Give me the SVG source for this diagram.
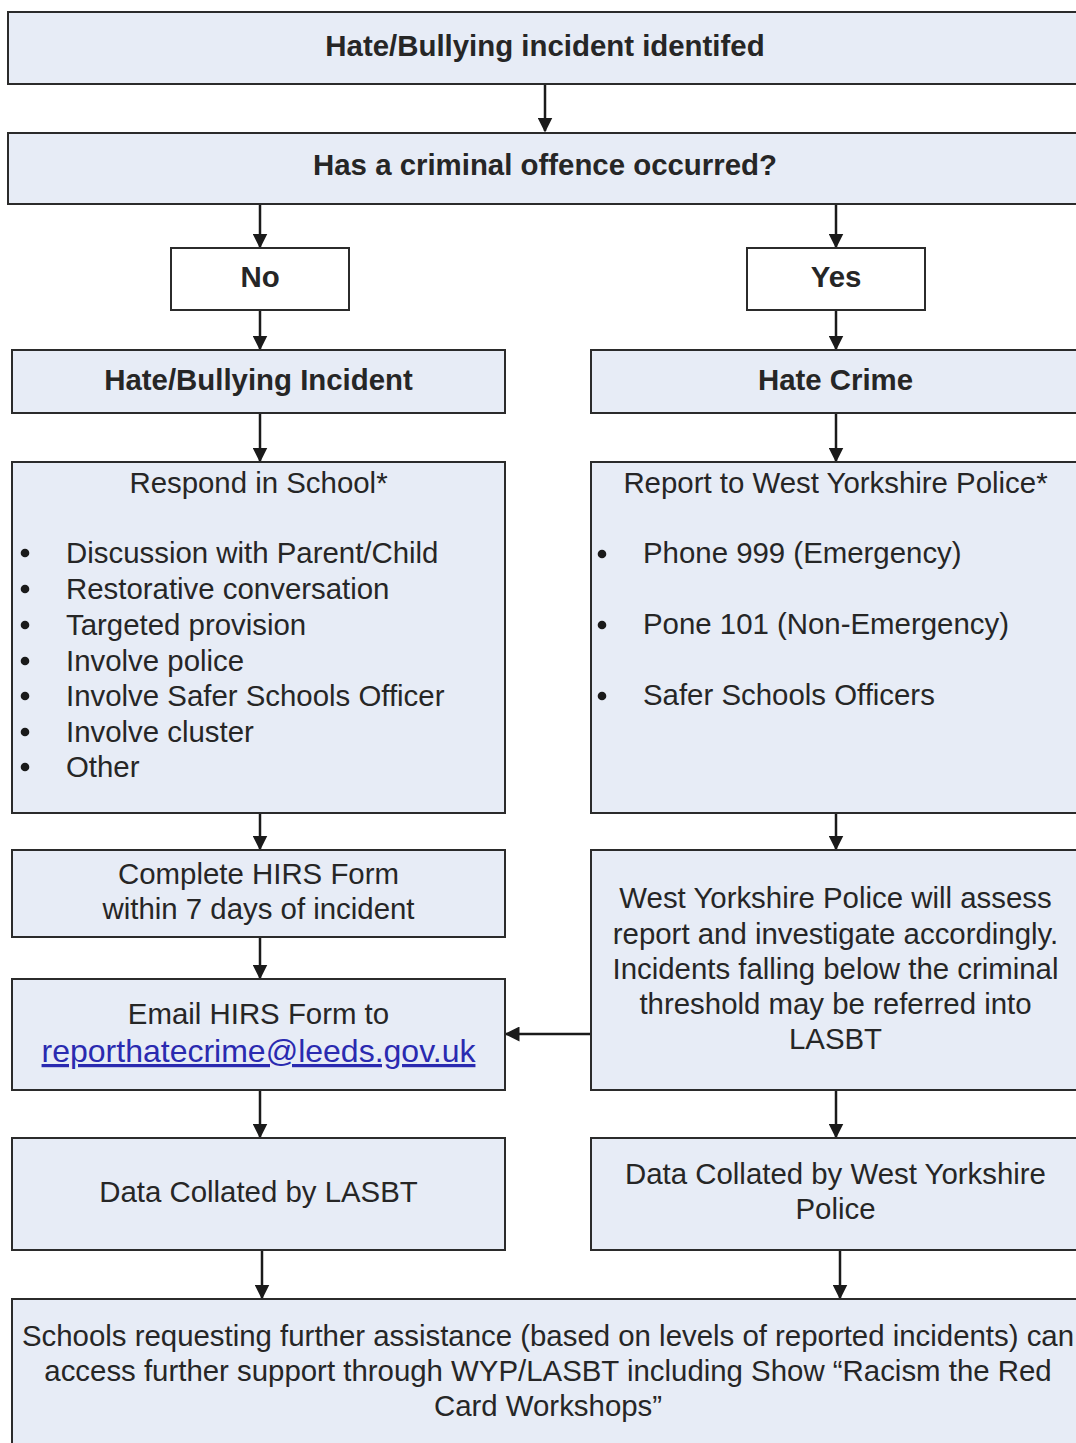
<svg xmlns="http://www.w3.org/2000/svg" width="1076" height="1443" viewBox="0 0 1076 1443">
<defs>
<style>
.box{fill:#e7ecf6;stroke:#2b2b2b;stroke-width:2}
.wbox{fill:#ffffff;stroke:#2b2b2b;stroke-width:2}
text{font-family:"Liberation Sans",Arial,sans-serif;font-size:29.4px;fill:#262626}
.b{font-weight:bold}
.c{text-anchor:middle}
.link{fill:#2a2ab0;text-decoration:underline;font-size:32px}
.dot{fill:#1a1a1a}
.conn{stroke:#1a1a1a;stroke-width:2.5;fill:none;marker-end:url(#ah)}
</style>
<marker id="ah" viewBox="0 0 10 10" refX="9" refY="5" markerWidth="6" markerHeight="6" orient="auto" markerUnits="strokeWidth">
<path d="M0,0 L10,5 L0,10 Z" fill="#1a1a1a"/>
</marker>
</defs>
<rect width="1076" height="1443" fill="#ffffff"/>

<g id="connectors">
<line class="conn" x1="545" y1="84" x2="545" y2="131"/>
<line class="conn" x1="260" y1="204" x2="260" y2="247"/>
<line class="conn" x1="836" y1="204" x2="836" y2="247"/>
<line class="conn" x1="260" y1="310" x2="260" y2="349"/>
<line class="conn" x1="836" y1="310" x2="836" y2="349"/>
<line class="conn" x1="260" y1="413" x2="260" y2="461"/>
<line class="conn" x1="836" y1="413" x2="836" y2="461"/>
<line class="conn" x1="260" y1="813" x2="260" y2="849"/>
<line class="conn" x1="836" y1="813" x2="836" y2="849"/>
<line class="conn" x1="260" y1="937" x2="260" y2="978"/>
<line class="conn" x1="591" y1="1034" x2="506" y2="1034"/>
<line class="conn" x1="260" y1="1090" x2="260" y2="1137"/>
<line class="conn" x1="836" y1="1090" x2="836" y2="1137"/>
<line class="conn" x1="262" y1="1250" x2="262" y2="1298"/>
<line class="conn" x1="840" y1="1250" x2="840" y2="1298"/>
</g>

<g id="n-identified">
<rect class="box" x="8" y="12" width="1076" height="72"/>
<text class="b c" x="545" y="56">Hate/Bullying incident identifed</text>
</g>

<g id="n-offence">
<rect class="box" x="8" y="133" width="1076" height="71"/>
<text class="b c" x="545" y="175">Has a criminal offence occurred?</text>
</g>

<g id="n-no">
<rect class="wbox" x="171" y="248" width="178" height="62"/>
<text class="b c" x="260" y="287">No</text>
</g>

<g id="n-yes">
<rect class="wbox" x="747" y="248" width="178" height="62"/>
<text class="b c" x="836" y="287">Yes</text>
</g>

<g id="n-incident">
<rect class="box" x="12" y="350" width="493" height="63"/>
<text class="b c" x="258.5" y="390">Hate/Bullying Incident</text>
</g>

<g id="n-crime">
<rect class="box" x="591" y="350" width="493" height="63"/>
<text class="b c" x="835.5" y="390">Hate Crime</text>
</g>

<g id="n-respond">
<rect class="box" x="12" y="462" width="493" height="351"/>
<text class="c" x="258.5" y="493">Respond in School*</text>
<circle class="dot" cx="25" cy="553" r="4.3"/>
<circle class="dot" cx="25" cy="589" r="4.3"/>
<circle class="dot" cx="25" cy="625" r="4.3"/>
<circle class="dot" cx="25" cy="661" r="4.3"/>
<circle class="dot" cx="25" cy="696" r="4.3"/>
<circle class="dot" cx="25" cy="732" r="4.3"/>
<circle class="dot" cx="25" cy="767" r="4.3"/>
<text x="66" y="563">Discussion with Parent/Child</text>
<text x="66" y="599">Restorative conversation</text>
<text x="66" y="635">Targeted provision</text>
<text x="66" y="671">Involve police</text>
<text x="66" y="706">Involve Safer Schools Officer</text>
<text x="66" y="742">Involve cluster</text>
<text x="66" y="777">Other</text>
</g>

<g id="n-report">
<rect class="box" x="591" y="462" width="493" height="351"/>
<text class="c" x="835.5" y="493">Report to West Yorkshire Police*</text>
<circle class="dot" cx="602" cy="554" r="4.3"/>
<circle class="dot" cx="602" cy="625" r="4.3"/>
<circle class="dot" cx="602" cy="696" r="4.3"/>
<text x="643" y="563">Phone 999 (Emergency)</text>
<text x="643" y="634">Pone 101 (Non-Emergency)</text>
<text x="643" y="705">Safer Schools Officers</text>
</g>

<g id="n-complete">
<rect class="box" x="12" y="850" width="493" height="87"/>
<text class="c" x="258.5" y="884">Complete HIRS Form</text>
<text class="c" x="258.5" y="919">within 7 days of incident</text>
</g>

<g id="n-wyp">
<rect class="box" x="591" y="850" width="493" height="240"/>
<text class="c" x="835.5" y="908">West Yorkshire Police will assess</text>
<text class="c" x="835.5" y="944">report and investigate accordingly.</text>
<text class="c" x="835.5" y="979">Incidents falling below the criminal</text>
<text class="c" x="835.5" y="1014">threshold may be referred into</text>
<text class="c" x="835.5" y="1049">LASBT</text>
</g>

<g id="n-email">
<rect class="box" x="12" y="979" width="493" height="111"/>
<text class="c" x="258.5" y="1024">Email HIRS Form to</text>
<text class="c link" x="258.5" y="1062">reporthatecrime@leeds.gov.uk</text>
</g>

<g id="n-data-lasbt">
<rect class="box" x="12" y="1138" width="493" height="112"/>
<text class="c" x="258.5" y="1202">Data Collated by LASBT</text>
</g>

<g id="n-data-wyp">
<rect class="box" x="591" y="1138" width="493" height="112"/>
<text class="c" x="835.5" y="1184">Data Collated by West Yorkshire</text>
<text class="c" x="835.5" y="1219">Police</text>
</g>

<g id="n-support">
<rect class="box" x="12" y="1299" width="1076" height="160"/>
<text class="c" x="548" y="1346">Schools requesting further assistance (based on levels of reported incidents) can</text>
<text class="c" x="548" y="1381">access further support through WYP/LASBT including Show “Racism the Red</text>
<text class="c" x="548" y="1416">Card Workshops”</text>
</g>
</svg>
